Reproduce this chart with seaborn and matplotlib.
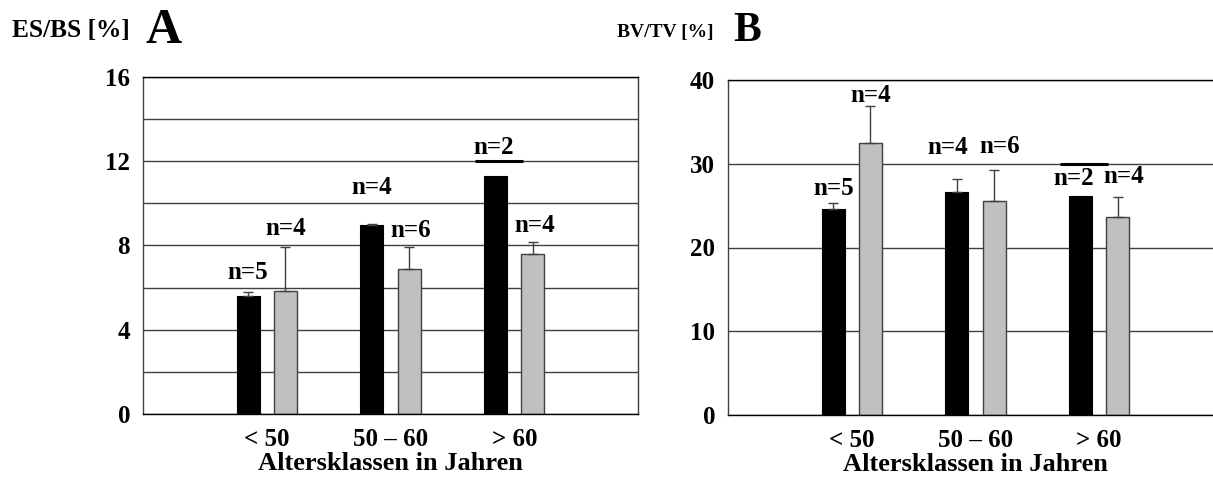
import numpy as np
import pandas as pd
import matplotlib
matplotlib.use("Agg")
import matplotlib.pyplot as plt
import seaborn as sns

# ---------------- data ----------------
categories = ["< 50", "50 \u2013 60", "> 60"]
groups = ["g1", "g2"]

a_black = [5.6, 8.96, 11.32]
a_black_err = [0.2, 0.05, 0.0]
a_gray = [5.84, 6.87, 7.58]
a_gray_err = [2.08, 1.08, 0.57]
a_black_n = ["n=5", "n=4", "n=2"]
a_gray_n = ["n=4", "n=6", "n=4"]
a_black_label_y = [6.7, 10.73, 12.63]
a_gray_label_y = [8.83, 8.7, 8.97]
a_extra_line = 12.0  # short dark segment above black bar of "> 60"

b_black = [24.56, 26.6, 26.15]
b_black_err = [0.72, 1.6, 0.0]
b_gray = [32.5, 25.5, 23.6]
b_gray_err = [4.4, 3.7, 2.47]
b_black_n = ["n=5", "n=4", "n=2"]
b_gray_n = ["n=4", "n=6", "n=4"]
b_black_label_y = [27.07, 31.96, 28.26]
b_gray_label_y = [38.1, 32.1, 28.46]
b_extra_line = 30.0

a_ticks = [0, 4, 8, 12, 16]
a_minor = [2, 6, 10, 14]
b_ticks = [0, 10, 20, 30, 40]

xlabel = "Altersklassen in Jahren"

# label horizontal nudges (pixels), layout only
a_black_dx = [0, 0, -2]
a_gray_dx = [0, 2, 2]
b_black_dx = [0, -9, -7]
b_gray_dx = [0, 6, 6]

# ---------------- style ----------------
sns.set_style("white")
plt.rcParams["font.family"] = ["Liberation Serif", "DejaVu Serif"]
plt.rcParams["font.weight"] = "bold"
plt.rcParams["text.color"] = "black"
plt.rcParams["axes.labelcolor"] = "black"
plt.rcParams["xtick.color"] = "black"
plt.rcParams["ytick.color"] = "black"

W, H = 1213, 479
fig = plt.figure(figsize=(W / 100, H / 100), dpi=100)

axA = fig.add_axes([143 / W, (H - 414) / H, 495 / W, 337 / H])
axB = fig.add_axes([728 / W, (H - 415) / H, 495 / W, 335 / H])

GRID = "#404040"
EDGE = "#404040"
NFS = 18


def panel(ax, black, black_err, gray, gray_err, bn, gn, bly, gly, bdx, gdx,
          ymax, ticks, minor, extra, right_spine):
    df = pd.DataFrame({
        "cat": categories * 2,
        "grp": [groups[0]] * 3 + [groups[1]] * 3,
        "val": list(black) + list(gray),
    })
    sns.barplot(data=df, x="cat", y="val", hue="grp", order=categories,
                hue_order=groups, palette=["black", "#c0c0c0"], width=0.6,
                gap=0.38, errorbar=None, legend=False, ax=ax, saturation=1)
    cont_b, cont_g = ax.containers[0], ax.containers[1]
    for p in cont_b:
        p.set_edgecolor("black")
        p.set_linewidth(0.8)
    for p in cont_g:
        p.set_edgecolor(EDGE)
        p.set_linewidth(1.0)
    xb = [p.get_x() + p.get_width() / 2 for p in cont_b]
    xg = [p.get_x() + p.get_width() / 2 for p in cont_g]
    for xs, vals, errs in ((xb, black, black_err), (xg, gray, gray_err)):
        for x, v, e in zip(xs, vals, errs):
            if e > 0:
                ax.errorbar([x], [v], yerr=[[0], [e]], fmt="none",
                            ecolor=GRID, elinewidth=1.0, capsize=3.5,
                            capthick=1.0, zorder=1)
    # short thick segment over the n=2 bar
    wb = cont_b[2].get_width()
    ax.hlines(extra, xb[2] - wb * 0.9, xb[2] + wb * 1.2, colors="black",
              linewidth=2.2, zorder=3)
    for xs, labs, ys, dxs in ((xb, bn, bly, bdx), (xg, gn, gly, gdx)):
        for x, lab, y, dx in zip(xs, labs, ys, dxs):
            ax.annotate(lab, (x, y), xytext=(dx * 0.72, 0),
                        textcoords="offset points", ha="center", va="center",
                        fontsize=NFS, fontweight="bold", color="black")

    ax.set_xlim(-1, 3)
    ax.set_ylim(0, ymax)
    ax.set_yticks(ticks)
    ax.set_yticklabels([str(t) for t in ticks])
    ax.set_yticks(minor, minor=True)
    ax.set_axisbelow(True)
    ax.yaxis.grid(True, which="both", color=GRID, linewidth=1.0)
    ax.xaxis.grid(False)
    ax.tick_params(axis="both", which="both", length=0, labelcolor="black")
    ax.tick_params(axis="y", pad=9.3, labelsize=18)
    ax.tick_params(axis="x", pad=10, labelsize=18)
    for lab in ax.get_yticklabels() + ax.get_xticklabels():
        lab.set_fontweight("bold")
    ax.set_xlabel(xlabel, fontsize=19, fontweight="bold", labelpad=0.5,
                  color="black")
    ax.set_ylabel("")
    for s in ["left", "top", "bottom", "right"]:
        ax.spines[s].set_visible(True)
        ax.spines[s].set_color("black")
        ax.spines[s].set_linewidth(1.0)
    ax.spines["left"].set_color(GRID)
    ax.spines["right"].set_color(GRID)
    ax.spines["right"].set_visible(right_spine)


panel(axA, a_black, a_black_err, a_gray, a_gray_err, a_black_n, a_gray_n,
      a_black_label_y, a_gray_label_y, a_black_dx, a_gray_dx, 16, a_ticks,
      a_minor, a_extra_line, True)
panel(axB, b_black, b_black_err, b_gray, b_gray_err, b_black_n, b_gray_n,
      b_black_label_y, b_gray_label_y, b_black_dx, b_gray_dx, 40, b_ticks,
      [], b_extra_line, False)

fig.text(12 / W, (H - 31) / H, "ES/BS [%]", fontsize=18.3, fontweight="bold",
         ha="left", va="center", color="black")
fig.text(145 / W, (H - 31) / H, "A", fontsize=36, fontweight="bold",
         ha="left", va="center", color="black")
fig.text(617 / W, (H - 33) / H, "BV/TV [%]", fontsize=14, fontweight="bold",
         ha="left", va="center", color="black")
fig.text(733 / W, (H - 31) / H, "B", fontsize=30, fontweight="bold",
         ha="left", va="center", color="black")

fig.savefig("out.png", dpi=100)
